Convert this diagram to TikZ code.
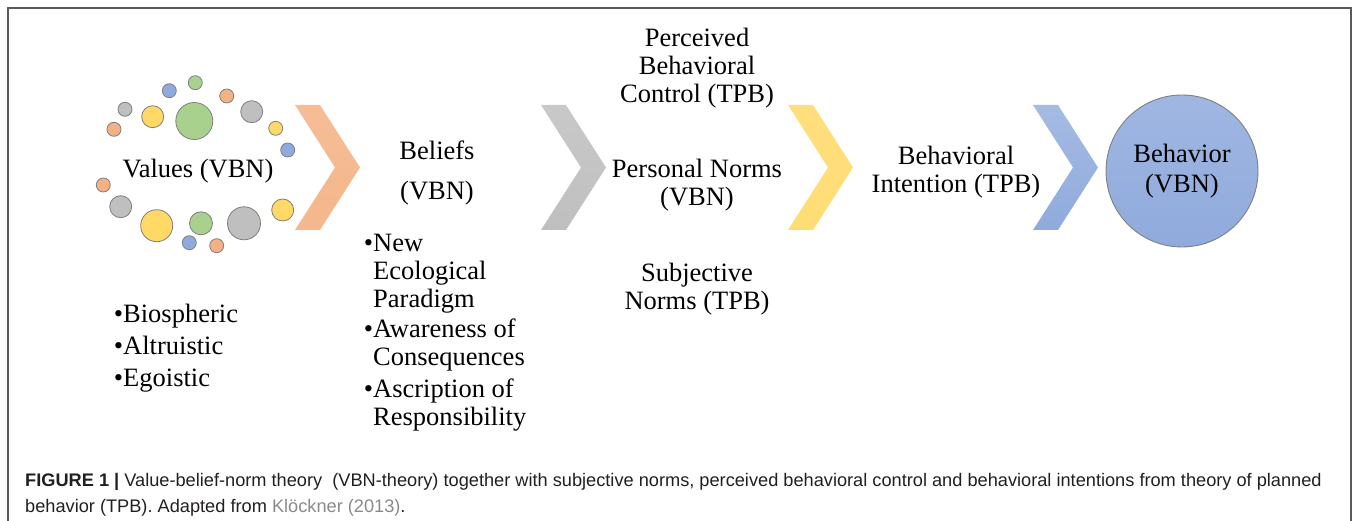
\documentclass[tikz,border=0pt]{standalone}
\usepackage{fontspec}
\setmainfont{Liberation Serif}
\newfontfamily\capfont{Liberation Sans}
\definecolor{corange}{HTML}{F4B183}
\definecolor{cyellow}{HTML}{FFD966}
\definecolor{cgreen}{HTML}{A9D18E}
\definecolor{cgray}{HTML}{BFBFBF}
\definecolor{cblue}{HTML}{8FAADC}
\definecolor{cedge}{HTML}{7F7F7F}
\definecolor{capcol}{HTML}{231F20}
\definecolor{linkcol}{HTML}{8A8A8A}
\definecolor{framecol}{HTML}{5A5A5A}
\newcommand\mychev[3]{\shade[top color=#2,bottom color=#3] (#1,105) -- ++(25,0) -- ++(40,62.5) -- ++(-40,62.5) -- ++(-25,0) -- ++(40,-62.5) -- cycle;}
\begin{document}
\begin{tikzpicture}[x=1pt,y=-1pt,
  lbl/.style={font=\fontsize{26.5}{28}\selectfont, align=center, inner sep=0pt},
  lst/.style={font=\fontsize{26.5}{28}\selectfont, align=left, inner sep=0pt, anchor=west},
  item/.style={font=\fontsize{26.5}{28}\selectfont, inner sep=0pt, anchor=base west},
  captext/.style={font=\capfont\fontsize{18.2}{21}\selectfont, text=capcol, inner sep=0pt, anchor=base west},
  dot/.style={draw=cedge, line width=0.8pt}]
\useasboundingbox (0,0) rectangle (1357,521);
% frame
\draw[framecol, line width=1.4pt] (8,521) -- (8,8) -- (1351,8) -- (1351,521);
% value circles
\foreach \x/\y/\r/\c in {
  194.3/121/18.5/cgreen, 251.7/111.7/11/cgray, 152.7/116.7/11/cyellow,
  125/109.3/7/cgray, 114/129.3/7/corange, 169.3/90.7/7/cblue,
  195.3/82.7/7/cgreen, 226.7/96/7/corange, 275.7/128.3/7/cyellow,
  287.7/150/7/cblue, 103.3/185/7/corange, 120.7/206.7/11/cgray,
  156.7/225.7/16/cyellow, 201/223.3/11.5/cgreen, 244/223.3/16.5/cgray,
  282.7/210/11/cyellow, 189.3/242.7/7/cblue, 216.7/245.7/7/corange}
  \draw[dot, fill=\c] (\x,\y) circle[radius=\r];
% chevrons
\mychev{295}{corange!85}{corange!100!red!93}
\mychev{541}{cgray!85}{cgray}
\mychev{788}{cyellow!85}{cyellow!100!orange!90}
\mychev{1033}{cblue!80}{cblue}
% behavior circle
\node[draw=cedge, line width=0.9pt, circle, minimum size=152pt, inner sep=0pt,
  top color=cblue!85, bottom color=cblue,
  font=\fontsize{26.5}{30}\selectfont, align=center] (beh) at (1182,171) {Behavior\\(VBN)};
% texts
\node[lbl] (values) at (198,171) {Values (VBN)};
\node[item] (bio) at (123,322) {\llap{\textbullet}Biospheric};
\node[item] (alt) at (123,354) {\llap{\textbullet}Altruistic};
\node[item] (ego) at (123,386) {\llap{\textbullet}Egoistic};
\node[lbl] (beliefs) at (437,173) {Beliefs\\[12pt](VBN)};
\node[lst] (nep) at (373,273.5) {\llap{\textbullet}New\\Ecological\\Paradigm};
\node[lst] (aoc) at (373,345) {\llap{\textbullet}Awareness of\\Consequences};
\node[lst] (aor) at (373,405) {\llap{\textbullet}Ascription of\\Responsibility};
\node[lbl] (pbc) at (697,68) {Perceived\\Behavioral\\Control (TPB)};
\node[lbl] (pn) at (697,185) {Personal Norms\\(VBN)};
\node[lbl] (sn) at (697,289) {Subjective\\Norms (TPB)};
\node[lbl] (bi) at (956,172) {Behavioral\\Intention (TPB)};
% caption
\node[captext] (cap1) at (25,486) {\textbf{FIGURE 1 |} Value-belief-norm theory \ (VBN-theory) together with subjective norms, perceived behavioral control and behavioral intentions from theory of planned};
\node[captext] (cap2) at (25,512) {behavior (TPB). Adapted from \textcolor{linkcol}{Klöckner (2013)}.};
\end{tikzpicture}
\end{document}
